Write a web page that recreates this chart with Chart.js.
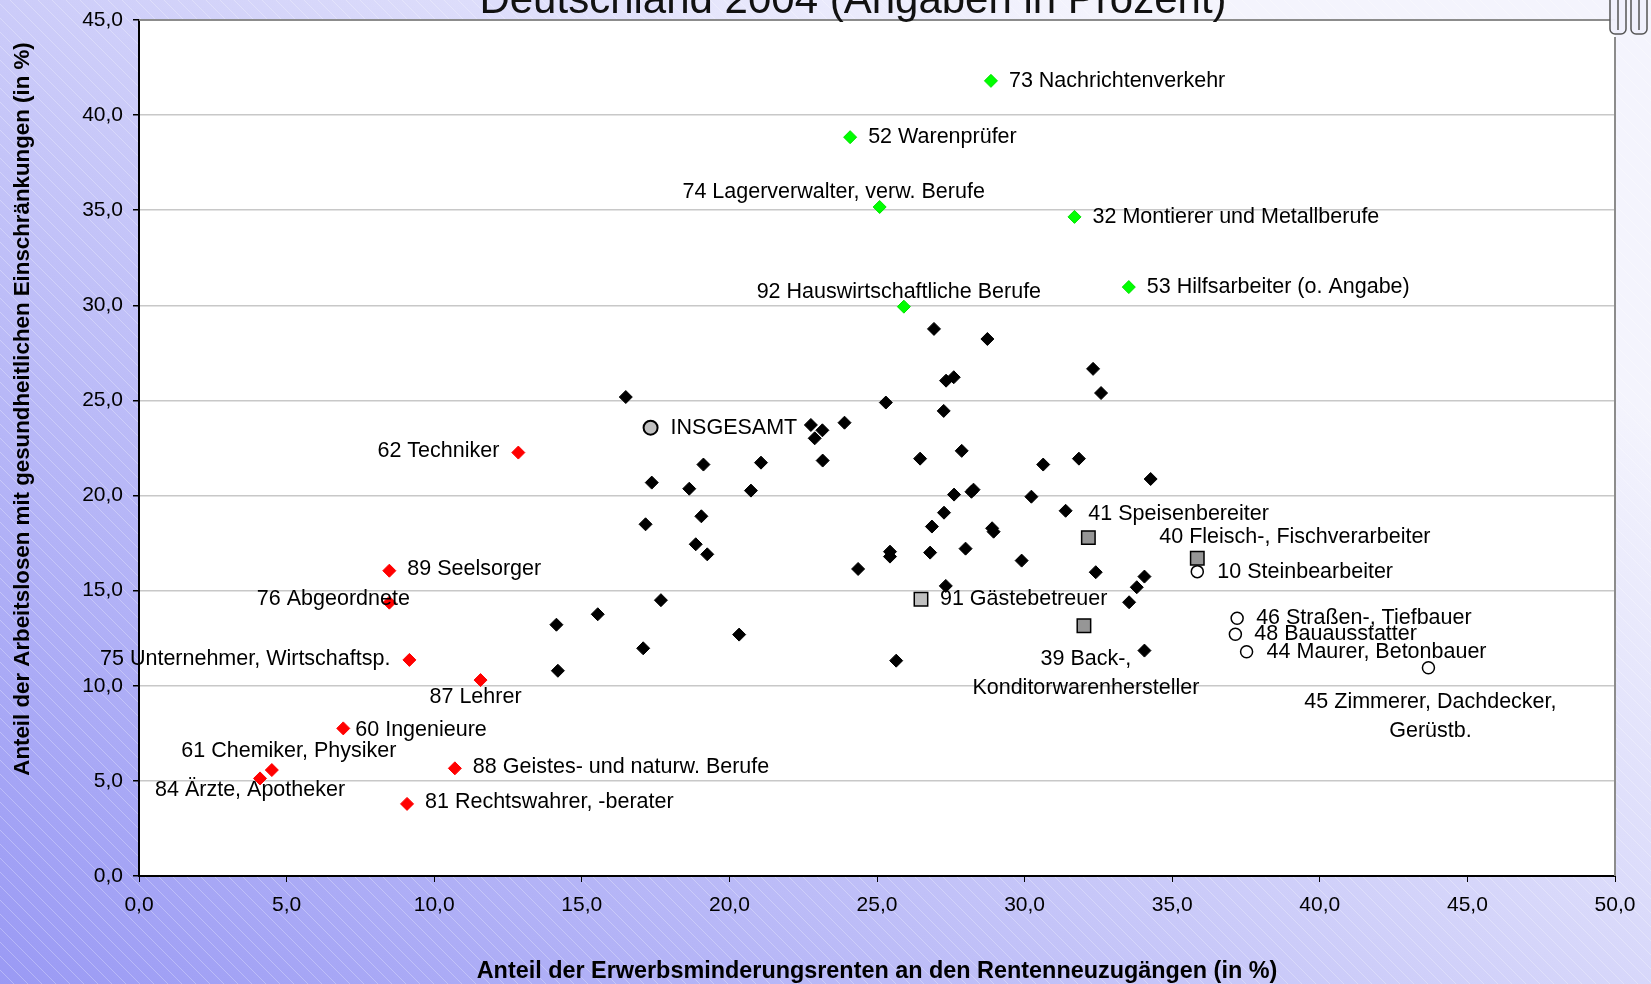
<!DOCTYPE html>
<html>
<head>
<meta charset="utf-8">
<script src="https://cdn.jsdelivr.net/npm/chart.js@4/dist/chart.umd.min.js"></script>
<style>
  html, body { margin: 0; padding: 0; background: #fff; }
  canvas { display: block; }
</style>
</head>
<body>
<canvas id="c" width="1651" height="984"></canvas>
<script>
// x = Anteil der Erwerbsminderungsrenten, y = Anteil Arbeitslose mit gesundheitl. Einschraenkungen
var xTickLabels = ['0,0', '5,0', '10,0', '15,0', '20,0', '25,0', '30,0', '35,0', '40,0', '45,0', '50,0'];
var yTickLabels = ['0,0', '5,0', '10,0', '15,0', '20,0', '25,0', '30,0', '35,0', '40,0', '45,0'];

// Berufe ohne Beschriftung
var otherX = [16.49, 26.93, 28.74, 27.34, 27.60, 32.32, 32.59, 25.30, 27.26, 22.76, 23.15, 22.89, 23.90, 19.12,
  21.07, 23.16, 26.46, 27.87, 30.63, 31.84, 34.27, 17.37, 18.64, 20.73, 27.61, 28.27, 28.20, 30.23, 31.39, 27.27,
  17.16, 19.05, 26.86, 28.90, 28.95, 18.86, 19.25, 25.44, 25.44, 26.80, 28.00, 24.36, 29.90, 32.41, 34.06, 33.80,
  33.54, 27.33, 17.68, 14.14, 15.54, 17.08, 20.33, 14.19, 25.65, 34.06];
var otherY = [25.18, 28.76, 28.23, 26.04, 26.22, 26.66, 25.39, 24.89, 24.45, 23.71, 23.43, 23.01, 23.83, 21.63,
  21.73, 21.84, 21.94, 22.35, 21.63, 21.94, 20.87, 20.68, 20.36, 20.26, 20.05, 20.31, 20.20, 19.94, 19.20, 19.10,
  18.49, 18.91, 18.37, 18.28, 18.10, 17.44, 16.91, 17.05, 16.79, 17.00, 17.21, 16.14, 16.58, 15.97, 15.74, 15.18,
  14.39, 15.25, 14.50, 13.21, 13.76, 11.97, 12.69, 10.79, 11.32, 11.85];

// hohe Arbeitslosen-Anteile (gruen)
var greenNames = ['73 Nachrichtenverkehr', '52 Warenprüfer', '74 Lagerverwalter, verw. Berufe',
  '32 Montierer und Metallberufe', '53 Hilfsarbeiter (o. Angabe)', '92 Hauswirtschaftliche Berufe'];
var greenX = [28.86, 24.09, 25.09, 31.69, 33.53, 25.91];
var greenY = [41.80, 38.84, 35.17, 34.65, 30.96, 29.93];

// niedrige Anteile (rot)
var redNames = ['62 Techniker', '89 Seelsorger', '76 Abgeordnete', '75 Unternehmer, Wirtschaftsp.', '87 Lehrer',
  '60 Ingenieure', '61 Chemiker, Physiker', '84 Ärzte, Apotheker', '88 Geistes- und naturw. Berufe',
  '81 Rechtswahrer, -berater'];
var redX = [12.85, 8.48, 8.48, 9.16, 11.57, 6.92, 4.50, 4.10, 10.70, 9.08];
var redY = [22.26, 16.05, 14.37, 11.36, 10.30, 7.76, 5.57, 5.13, 5.66, 3.79];

// Nahrung / Gaeste (Quadrate)
var foodNames = ['41 Speisenbereiter', '40 Fleisch-, Fischverarbeiter', '91 Gästebetreuer',
  '39 Back-,\nKonditorwarenhersteller'];
var foodX = [32.16, 35.85, 26.49, 32.01];
var foodY = [17.79, 16.70, 14.55, 13.16];

// Bau (Kreise)
var buildNames = ['10 Steinbearbeiter', '46 Straßen-, Tiefbauer', '48 Bauausstatter', '44 Maurer, Betonbauer',
  '45 Zimmerer, Dachdecker,\nGerüstb.'];
var buildX = [35.85, 37.20, 37.14, 37.52, 43.68];
var buildY = [16.00, 13.55, 12.71, 11.79, 10.95];

var totalNames = ['INSGESAMT'];
var totalX = [17.33];
var totalY = [23.57];

// Beschriftung: [dx, dy, align] in Pixel relativ zum Punkt
var greenLabelPos = [[18, 0, 'left'], [18, 0, 'left'], [-46, -15, 'center'], [18, 0, 'left'], [18, 0, 'left'], [-5, -15, 'center']];
var redLabelPos = [[-19, -1, 'right'], [18, -2, 'left'], [-56, -4, 'center'], [-19, -1, 'right'], [-5, 17, 'center'],
  [12, 2, 'left'], [17, -19, 'center'], [-10, 12, 'center'], [18, -1, 'left'], [18, -2, 'left']];
var foodLabelPos = [[0, -24, 'left'], [-38, -21, 'left'], [19, 0, 'left'], [2, 33, 'center']];
var buildLabelPos = [[20, 0, 'left'], [19, 0, 'left'], [19, 0, 'left'], [20, 0, 'left'], [2, 34, 'center']];
var totalLabelPos = [[20, 0, 'left']];

var FONT = '"Liberation Sans", Arial, sans-serif';

function pts(xs, ys) {
  return xs.map(function(x, i) { return { x: x, y: ys[i] }; });
}

function roundRect(ctx, x, y, w, h, r) {
  ctx.moveTo(x + r, y);
  ctx.arcTo(x + w, y, x + w, y + h, r);
  ctx.arcTo(x + w, y + h, x, y + h, r);
  ctx.arcTo(x, y + h, x, y, r);
  ctx.arcTo(x, y, x + w, y, r);
}

var background = {
  id: 'background',
  beforeDraw: function(chart) {
    var ctx = chart.ctx, w = chart.width, h = chart.height, a = chart.chartArea;
    ctx.save();
    var g = ctx.createLinearGradient(0, h, 850, -173);
    g.addColorStop(0, 'rgb(154,154,244)');
    g.addColorStop(1, 'rgb(244,244,253)');
    ctx.fillStyle = g;
    ctx.fillRect(0, 0, w, h);
    // feine Schraffur
    ctx.strokeStyle = 'rgba(255,255,255,0.28)';
    ctx.lineWidth = 1;
    ctx.beginPath();
    for (var s = -h; s < w; s += 14) {
      ctx.moveTo(s, 0);
      ctx.lineTo(s + h, h);
    }
    ctx.stroke();
    ctx.fillStyle = '#fff';
    ctx.fillRect(a.left, a.top, a.right - a.left, a.bottom - a.top);
    ctx.restore();
  },
  afterDraw: function(chart) {
    var ctx = chart.ctx, a = chart.chartArea;
    ctx.save();
    // Rahmen oben/rechts
    ctx.strokeStyle = '#8c8c8c';
    ctx.lineWidth = 2;
    ctx.beginPath();
    ctx.moveTo(a.left, a.top);
    ctx.lineTo(a.right - 5, a.top);
    ctx.moveTo(a.right, a.top + 17);
    ctx.lineTo(a.right, a.bottom);
    ctx.stroke();
    // Zierelement oben rechts
    ctx.strokeStyle = '#555';
    ctx.lineWidth = 1.5;
    ctx.fillStyle = 'rgba(240,240,252,0.9)';
    ctx.beginPath();
    roundRect(ctx, a.right - 5, -10, 16, 44, 5);
    roundRect(ctx, a.right + 16, -10, 16, 44, 5);
    ctx.fill();
    ctx.stroke();
    ctx.beginPath();
    ctx.moveTo(a.right + 3, -10); ctx.lineTo(a.right + 3, 30);
    ctx.moveTo(a.right + 24, -10); ctx.lineTo(a.right + 24, 30);
    ctx.stroke();
    // Titel (oben abgeschnitten)
    ctx.fillStyle = '#111';
    ctx.font = '42px ' + FONT;
    ctx.textAlign = 'center';
    ctx.textBaseline = 'alphabetic';
    ctx.fillText('Deutschland 2004 (Angaben in Prozent)', 853, 13);
    // Achsentitel
    ctx.fillStyle = '#000';
    ctx.font = 'bold 23.4px ' + FONT;
    ctx.fillText('Anteil der Erwerbsminderungsrenten an den Rentenneuzugängen (in %)', (a.left + a.right) / 2, 978);
    ctx.font = 'bold 22.3px ' + FONT;
    ctx.translate(29, 409);
    ctx.rotate(-Math.PI / 2);
    ctx.fillText('Anteil der Arbeitslosen mit gesundheitlichen Einschränkungen (in %)', 0, 0);
    ctx.restore();
  }
};

function drawLabels(chart, index, names, pos) {
  var ctx = chart.ctx;
  chart.getDatasetMeta(index).data.forEach(function(el, i) {
    var p = pos[i];
    ctx.textAlign = p[2];
    names[i].split('\n').forEach(function(line, k) {
      ctx.fillText(line, el.x + p[0], el.y + p[1] + k * 29);
    });
  });
}

var labels = {
  id: 'labels',
  afterDatasetsDraw: function(chart) {
    var ctx = chart.ctx;
    ctx.save();
    ctx.font = '21.5px ' + FONT;
    ctx.fillStyle = '#000';
    ctx.textBaseline = 'middle';
    drawLabels(chart, 0, buildNames, buildLabelPos);
    drawLabels(chart, 1, foodNames, foodLabelPos);
    drawLabels(chart, 2, totalNames, totalLabelPos);
    drawLabels(chart, 3, redNames, redLabelPos);
    drawLabels(chart, 4, greenNames, greenLabelPos);
    ctx.restore();
  }
};

new Chart(document.getElementById('c'), {
  type: 'scatter',
  data: {
    datasets: [
      { data: pts(buildX, buildY), pointStyle: 'circle', radius: 6, backgroundColor: '#fff', borderColor: '#000', borderWidth: 1.5 },
      { data: pts(foodX, foodY), pointStyle: 'rect', radius: 9.5, backgroundColor: ['#969696', '#969696', '#c0c0c0', '#969696'], borderColor: '#000', borderWidth: 1.5 },
      { data: pts(totalX, totalY), pointStyle: 'circle', radius: 7, backgroundColor: '#c0c0c0', borderColor: '#000', borderWidth: 2 },
      { data: pts(redX, redY), pointStyle: 'rectRot', radius: 6.5, backgroundColor: '#ff0000', borderColor: '#ff0000', borderWidth: 1 },
      { data: pts(greenX, greenY), pointStyle: 'rectRot', radius: 6.5, backgroundColor: '#00ff00', borderColor: '#00e000', borderWidth: 1 },
      { data: pts(otherX, otherY), pointStyle: 'rectRot', radius: 6.5, backgroundColor: '#000', borderColor: '#000', borderWidth: 1 }
    ]
  },
  options: {
    responsive: false,
    animation: false,
    events: [],
    layout: { padding: { top: 20, right: 36, bottom: 0, left: 0 } },
    plugins: { legend: { display: false }, tooltip: { enabled: false } },
    scales: {
      x: {
        type: 'linear', min: 0, max: 50,
        ticks: {
          stepSize: 5, padding: 11, color: '#000', maxRotation: 0,
          font: { family: FONT, size: 21 },
          callback: function(v, i) { return xTickLabels[i]; }
        },
        grid: { drawOnChartArea: false, tickLength: 6, tickColor: '#000' },
        border: { color: '#000', width: 2 },
        afterFit: function(s) { s.height = 108; s.paddingLeft = 0; s.paddingRight = 0; }
      },
      y: {
        type: 'linear', min: 0, max: 45,
        ticks: {
          stepSize: 5, padding: 10, color: '#000',
          font: { family: FONT, size: 21 },
          callback: function(v, i) { return yTickLabels[i]; }
        },
        grid: { color: '#c8c8c8', lineWidth: 1.5, tickLength: 6, tickColor: '#000' },
        border: { color: '#000', width: 2 },
        afterFit: function(s) { s.width = 139; s.paddingTop = 0; s.paddingBottom = 0; }
      }
    }
  },
  plugins: [background, labels]
});
</script>
</body>
</html>
